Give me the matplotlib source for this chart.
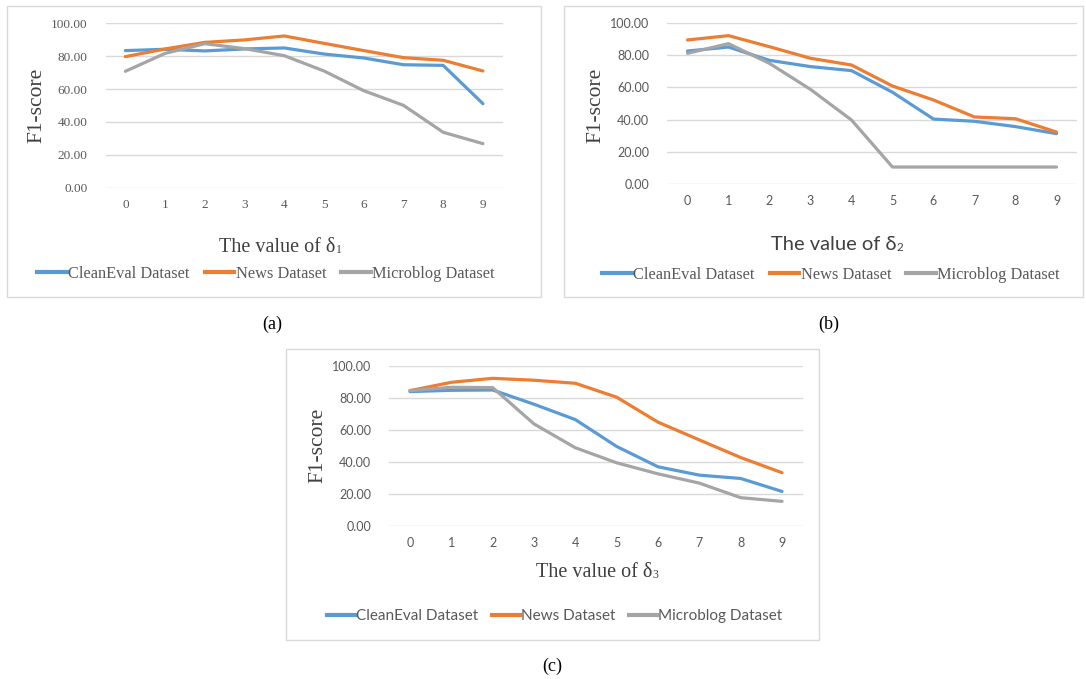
import matplotlib
matplotlib.use("Agg")
import matplotlib.pyplot as plt
from matplotlib.patches import Rectangle
from matplotlib.lines import Line2D

# ---------------- data ----------------
x_values = [0, 1, 2, 3, 4, 5, 6, 7, 8, 9]
series_names = ["CleanEval Dataset", "News Dataset", "Microblog Dataset"]
y_ticks = [0, 20, 40, 60, 80, 100]

a_cleaneval = [83.4, 84.2, 83.2, 84.4, 85.0, 81.3, 78.9, 74.8, 74.4, 51.1]
a_news = [79.7, 84.4, 88.4, 89.9, 92.3, 87.8, 83.4, 79.1, 77.5, 71.0]
a_microblog = [70.8, 81.7, 87.6, 84.6, 80.3, 71.0, 59.0, 50.1, 33.7, 26.8]

b_cleaneval = [82.7, 85.2, 76.9, 73.0, 70.5, 57.0, 40.3, 38.9, 35.6, 31.2]
b_news = [89.6, 92.3, 85.4, 78.2, 74.0, 60.9, 52.2, 41.6, 40.5, 32.2]
b_microblog = [81.3, 87.3, 75.0, 58.8, 39.7, 10.4, 10.4, 10.4, 10.4, 10.4]

c_cleaneval = [84.0, 84.8, 85.0, 76.1, 66.5, 49.7, 37.0, 31.8, 29.7, 21.6]
c_news = [84.6, 89.8, 92.3, 91.1, 89.2, 80.5, 64.9, 53.8, 42.8, 33.3]
c_microblog = [84.6, 86.7, 86.5, 63.8, 48.9, 39.5, 32.6, 26.8, 17.7, 15.4]

panel_letters = ["(a)", "(b)", "(c)"]
x_label_main = "The value of δ"
x_label_subs = ["1", "2", "3"]

colors = ["#5B9BD5", "#ED7D31", "#A5A5A5"]
GRID = "#D9D9D9"
TXT = "#595959"
SERIF = ["Liberation Serif", "DejaVu Serif"]
SANS = ["Lato", "DejaVu Sans"]

W, H = 1086, 679
fig = plt.figure(figsize=(W / 100, H / 100), dpi=100)
renderer = fig.canvas.get_renderer()


def fx(x):
    return x / W


def fy(y):
    return 1 - y / H


def box(x0, y0, x1, y1):
    fig.patches.append(Rectangle((fx(x0), fy(y1)), fx(x1) - fx(x0), fy(y0) - fy(y1),
                                 transform=fig.transFigure, fill=False,
                                 edgecolor=GRID, linewidth=1.0))


def sub_label(main, sub, font, cx, cy, size, sub_size):
    t1 = fig.text(0, 0, main, family=font, fontsize=size, color="#404040",
                  ha="left", va="baseline")
    t2 = fig.text(0, 0, sub, family=font, fontsize=sub_size, color="#404040",
                  ha="left", va="baseline")
    w1 = t1.get_window_extent(renderer).width
    w2 = t2.get_window_extent(renderer).width
    total = w1 + w2
    x0 = cx - total / 2
    base = cy + size * 1.389 * 0.35
    t1.set_position((fx(x0), fy(base)))
    t2.set_position((fx(x0 + w1 + 0.5), fy(base + 0.5)))


def panel(ax_px, data, tick_font, tick_size, ylab_pos, sub, xlab_font, xlab_pos,
          leg_font, leg_pos, leg_size):
    l, t, r, b = ax_px
    ax = fig.add_axes([fx(l), fy(b), fx(r) - fx(l), fy(t) - fy(b)])
    for vals, c, name in zip(data, colors, series_names):
        ax.plot(x_values, vals, color=c, linewidth=2.3, label=name,
                solid_capstyle="round")
    ax.set_xlim(-0.5, 9.5)
    ax.set_ylim(0, 100)
    ax.set_yticks(y_ticks)
    ax.set_yticklabels([f"{v:.2f}" for v in y_ticks], family=tick_font,
                       fontsize=tick_size, color=TXT)
    ax.set_xticks(x_values)
    ax.set_xticklabels([str(v) for v in x_values], family=tick_font,
                       fontsize=tick_size, color=TXT)
    ax.tick_params(axis="y", length=0, pad=13)
    ax.tick_params(axis="x", length=0, pad=8)
    ax.grid(axis="y", color=GRID, linewidth=1.0)
    ax.set_axisbelow(True)
    for s in ax.spines.values():
        s.set_visible(False)
    fig.text(fx(ylab_pos[0]), fy(ylab_pos[1]), "F1-score", rotation=90,
             ha="center", va="center", family=SERIF, fontsize=15.5, color="#404040")
    sub_label(x_label_main, sub, xlab_font, xlab_pos[0], xlab_pos[1], 14.5, 8.5)
    handles = [Line2D([0], [0], color=c, linewidth=3) for c in colors]
    leg = fig.legend(handles, series_names, loc="center",
                     bbox_to_anchor=(fx(leg_pos[0]), fy(leg_pos[1])),
                     ncol=3, frameon=False, handlelength=1.8, handletextpad=0.1,
                     columnspacing=0.9, prop={"family": leg_font, "size": leg_size})
    for txt in leg.get_texts():
        txt.set_color(TXT)
    return ax


# panel boxes
box(7, 6, 541, 297)
box(564, 6, 1083, 297)
box(286, 349, 819, 640)

# (a)
panel((105.5, 23.3, 502.8, 187.7), [a_cleaneval, a_news, a_microblog], SERIF, 9.5,
      (37, 105), x_label_subs[0], SERIF, (280, 245), SERIF, (266, 274), 11.8)
# (b)
panel((667, 23.3, 1077, 183.7), [b_cleaneval, b_news, b_microblog], SANS, 9,
      (596, 105), x_label_subs[1], SANS, (837, 243), SERIF, (831, 275), 11.8)
# (c)
panel((389.3, 366, 802.7, 526), [c_cleaneval, c_news, c_microblog], SANS, 9,
      (318, 445), x_label_subs[2], SERIF, (597, 570), SANS, (555, 616), 11)

# panel letters
for letter, (px, py) in zip(panel_letters, [(272, 324), (829, 324), (552, 666)]):
    fig.text(fx(px), fy(py), letter, ha="center", va="center", family=SERIF,
             fontsize=13, color="black")

fig.savefig("out.png", dpi=100, facecolor="white")
